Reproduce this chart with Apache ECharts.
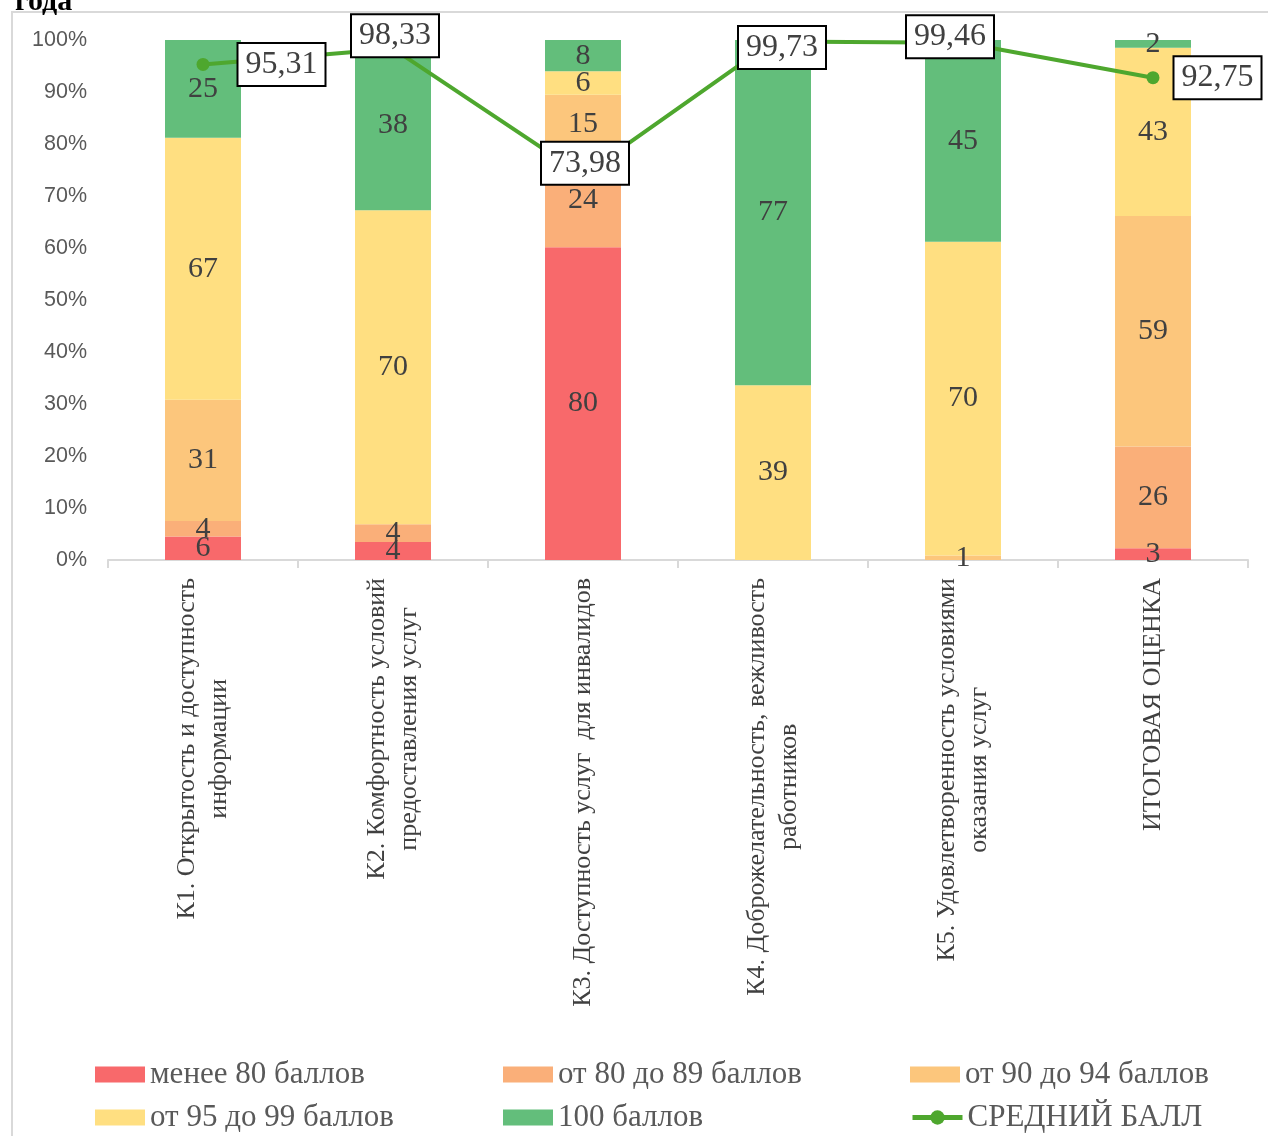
<!DOCTYPE html>
<html>
<head>
<meta charset="utf-8">
<script src="https://cdn.jsdelivr.net/npm/echarts@6/dist/echarts.min.js"></script>
<style>
  html, body { margin: 0; padding: 0; background: #fff; }
  #main { width: 1268px; height: 1136px; }
</style>
</head>
<body>
<div id="main"></div>
<script>
// категории
var categories = [
    'К1. Открытость и доступность\nинформации',
    'К2. Комфортность условий\nпредоставления услуг',
    'К3. Доступность услуг  для инвалидов',
    'К4. Доброжелательность, вежливость\nработников',
    'К5. Удовлетворенность условиями\nоказания услуг',
    'ИТОГОВАЯ ОЦЕНКА'
];

// количество по группам баллов
var below80 = [6, 4, 80, 0, 0, 3];
var from80to89 = [4, 4, 24, 0, 0, 26];
var from90to94 = [31, 0, 15, 0, 1, 59];
var from95to99 = [67, 70, 6, 39, 70, 43];
var score100 = [25, 38, 8, 77, 45, 2];

// средний балл
var avgScore = [95.31, 98.33, 73.98, 99.73, 99.46, 92.75];

var yTicks = [0, 10, 20, 30, 40, 50, 60, 70, 80, 90, 100];

var groups = [
    { name: 'менее 80 баллов', data: below80, color: '#F8696B' },
    { name: 'от 80 до 89 баллов', data: from80to89, color: '#FAAF79' },
    { name: 'от 90 до 94 баллов', data: from90to94, color: '#FCC67C' },
    { name: 'от 95 до 99 баллов', data: from95to99, color: '#FFDF81' },
    { name: '100 баллов', data: score100, color: '#63BE7B' }
];

// итог по столбцу, для 100% накопления
var totals = categories.map(function (c, i) {
    var s = 0;
    groups.forEach(function (g) { s += g.data[i]; });
    return s;
});

var serif = "'Liberation Serif', 'Times New Roman', serif";

var series = groups.map(function (g) {
    return {
        name: g.name,
        type: 'bar',
        stack: 'all',
        barWidth: 76,
        itemStyle: { color: g.color },
        label: {
            show: true,
            position: 'inside',
            fontFamily: serif,
            fontSize: 30,
            color: '#404040',
            formatter: function (p) {
                var v = g.data[p.dataIndex];
                return v ? String(v) : '';
            }
        },
        data: g.data.map(function (v, i) { return v / totals[i] * 100; })
    };
});

// где стоят подписи среднего балла
var avgLabelPlace = [
    { position: 'right', distance: 29 },
    { position: 'inside', offset: [2, -13] },
    { position: 'inside', offset: [2, -12] },
    { position: 'inside', offset: [9, 6] },
    { position: 'inside', offset: [-13, -6] },
    { position: 'right', distance: 15 }
];

series.push({
    name: 'СРЕДНИЙ БАЛЛ',
    type: 'line',
    z: 5,
    symbol: 'circle',
    symbolSize: 13,
    lineStyle: { color: '#4EA72E', width: 4 },
    itemStyle: { color: '#4EA72E' },
    label: {
        show: true,
        fontFamily: serif,
        fontSize: 32,
        color: '#404040',
        backgroundColor: '#fff',
        borderColor: '#000',
        borderWidth: 2,
        padding: [6, 7, 3, 7],
        formatter: function (p) { return String(p.value).replace('.', ','); }
    },
    data: avgScore.map(function (v, i) {
        return { value: v, label: avgLabelPlace[i] };
    })
});

// легенда: три колонки по два пункта
var legendPlace = [
    ['менее 80 баллов', 95, 1059],
    ['от 80 до 89 баллов', 503, 1059],
    ['от 90 до 94 баллов', 910, 1059],
    ['от 95 до 99 баллов', 95, 1102],
    ['100 баллов', 503, 1102],
    ['СРЕДНИЙ БАЛЛ', 910, 1102]
];
var legends = legendPlace.map(function (l, i) {
    var isLine = i === 5;
    return {
        left: l[1], top: l[2],
        padding: 0,
        icon: isLine ? undefined : 'rect',
        itemWidth: 50, itemHeight: isLine ? 18 : 16,
        itemGap: 0,
        lineStyle: { width: 5 },
        textStyle: { fontFamily: serif, fontSize: 31, color: '#595959' },
        data: [l[0]]
    };
});

var chart = echarts.init(document.getElementById('main'));
chart.setOption({
    animation: false,
    title: {
        text: 'года',
        left: 10,
        top: -18,
        textStyle: { fontFamily: serif, fontSize: 30, fontWeight: 'bold', color: '#000' }
    },
    graphic: [{
        type: 'rect',
        shape: { x: 12, y: 12, width: 1280, height: 1150 },
        style: { fill: null, stroke: '#d9d9d9', lineWidth: 2 },
        silent: true,
        z: -10
    }],
    grid: { left: 108, right: 20, top: 40, bottom: 576 },
    legend: legends,
    xAxis: {
        type: 'category',
        data: categories,
        axisLine: { lineStyle: { color: '#d9d9d9', width: 2 } },
        axisTick: { show: true, length: 8, lineStyle: { color: '#d9d9d9', width: 2 } },
        axisLabel: {
            rotate: 90,
            margin: 18,
            interval: 0,
            formatter: function (v) {
                return v.split('\n').map(function (s) { return '{c|' + s + '}'; }).join('\n');
            },
            rich: {
                c: { align: 'center', fontFamily: serif, fontSize: 26, lineHeight: 32, color: '#404040' }
            }
        }
    },
    yAxis: {
        type: 'value',
        min: yTicks[0],
        max: yTicks[yTicks.length - 1],
        interval: yTicks[1] - yTicks[0],
        splitLine: { show: false },
        axisLine: { show: false },
        axisTick: { show: false },
        axisLabel: {
            margin: 21,
            fontFamily: "'Liberation Sans', Arial, sans-serif",
            fontSize: 21.5,
            color: '#595959',
            formatter: '{value}%'
        }
    },
    series: series
});
</script>
</body>
</html>
